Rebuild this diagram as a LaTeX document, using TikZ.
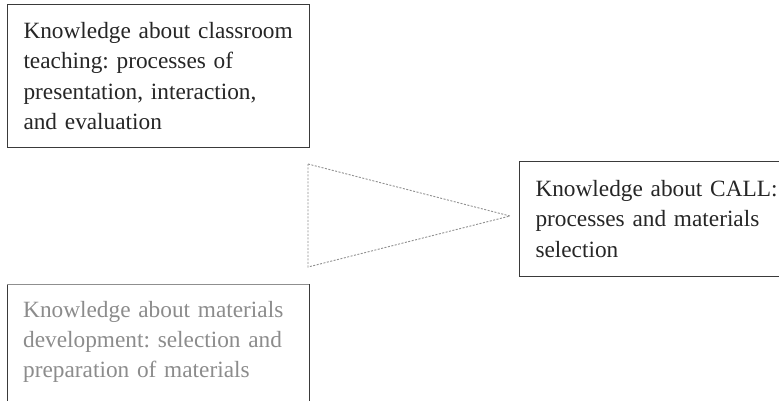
\documentclass[tikz,border=0pt]{standalone}
\usepackage{fontspec}
\setmainfont{Liberation Serif}
\frenchspacing
\definecolor{boxline}{HTML}{3A3A3A}
\definecolor{darktext}{HTML}{262626}
\definecolor{greytext}{HTML}{8C8C8C}
\definecolor{greyline}{HTML}{8F8F8F}
\definecolor{dotline}{HTML}{909090}
\begin{document}
\begin{tikzpicture}[x=1pt,y=-1pt,
  kbox/.style={draw=boxline, line width=1pt, anchor=north west, align=left,
    inner xsep=16pt, inner ysep=0pt, text=darktext,
    font=\fontsize{23.3}{30.3}\selectfont\frenchspacing},
  ktext/.style={anchor=north west, align=left, inner sep=0pt,
    font=\fontsize{23.3}{30.3}\selectfont\frenchspacing}]
\clip (0,0) rectangle (779,400);
\fill[white] (0,0) rectangle (779,400);

\node[kbox, text width=270pt, minimum width=302pt, minimum height=143pt] (teach) at (7,4)
  {Knowledge about classroom\\teaching: processes of\\presentation, interaction,\\and evaluation};

\node[kbox, text width=268pt, minimum width=300pt, minimum height=115pt] (call) at (519,161)
  {Knowledge about CALL:\\processes and materials\\selection};

\node[ktext, text=greytext, text width=280pt] (dev) at (23,301)
  {Knowledge about materials\\development: selection and\\preparation of materials};
\coordinate (devTL) at (7,284);
\coordinate (devTR) at (309,284);
\coordinate (devBL) at (7,420);
\coordinate (devBR) at (309,420);
\draw[boxline, line width=1pt] (devBL) -- (devTL);
\draw[boxline, line width=1pt] (devTR) -- (devBR);
\draw[greyline, line width=1pt] (devTL) -- (devTR);

\coordinate (triA) at (308,164);
\coordinate (triB) at (308,267);
\coordinate (triC) at (510,216);
\draw[dotline, line width=0.9pt, dash pattern=on 2pt off 1.5pt] (triA) -- (triC) -- (triB) -- cycle;
\end{tikzpicture}
\end{document}
